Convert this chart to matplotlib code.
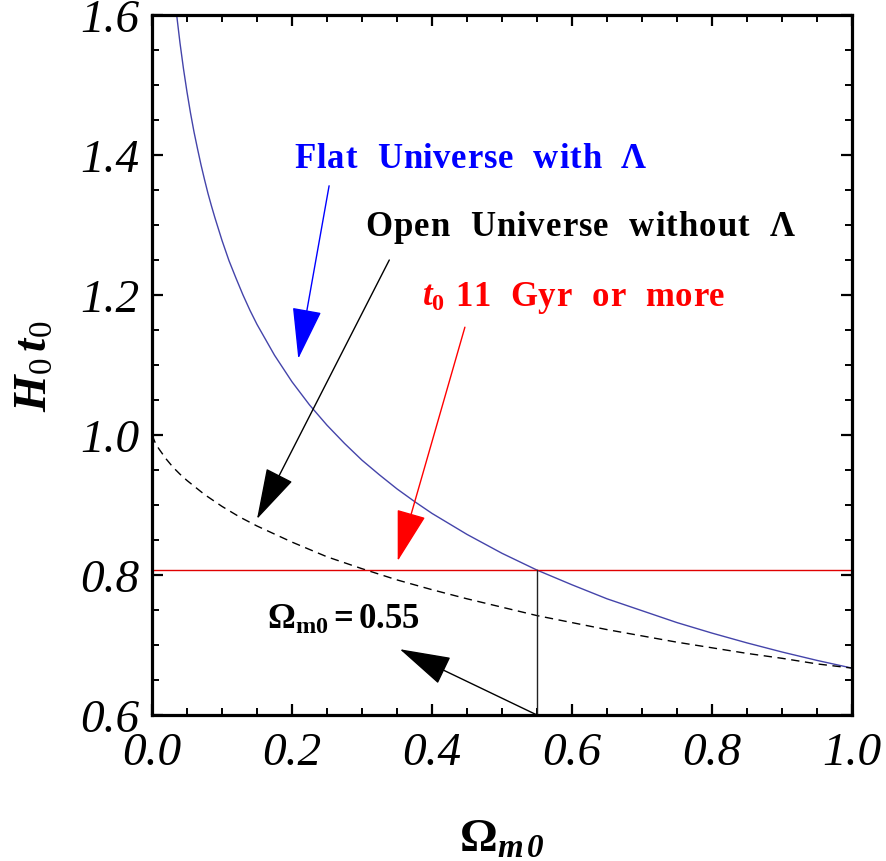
import numpy as np
import matplotlib
matplotlib.use("Agg")
import matplotlib.pyplot as plt
from matplotlib.ticker import MultipleLocator, FixedLocator
from matplotlib.transforms import offset_copy

plt.rcParams['font.family'] = ['Liberation Serif', 'DejaVu Serif']
plt.rcParams['mathtext.fontset'] = 'custom'
plt.rcParams['mathtext.rm'] = 'Liberation Serif'
plt.rcParams['mathtext.it'] = 'Liberation Serif:italic'
plt.rcParams['mathtext.bf'] = 'Liberation Serif:bold'
plt.rcParams['mathtext.bfit'] = 'Liberation Serif:bold:italic'

# ---- data ----
omega_flat = [0.030, 0.032, 0.035, 0.040, 0.045, 0.050, 0.055, 0.060, 0.065, 0.070,
              0.075, 0.080, 0.085, 0.090, 0.100, 0.110, 0.120, 0.130, 0.140, 0.150,
              0.175, 0.200, 0.225, 0.250, 0.275, 0.300, 0.325, 0.350, 0.375, 0.400,
              0.450, 0.500, 0.550, 0.600, 0.650, 0.700, 0.750, 0.800, 0.850, 0.900,
              0.950, 1.000]
h0t0_flat = [1.651, 1.630, 1.602, 1.560, 1.523, 1.490, 1.460, 1.433, 1.409, 1.386,
             1.365, 1.345, 1.327, 1.310, 1.278, 1.249, 1.224, 1.200, 1.178, 1.158,
             1.114, 1.076, 1.043, 1.014, 0.988, 0.964, 0.943, 0.923, 0.905, 0.888,
             0.858, 0.831, 0.807, 0.786, 0.766, 0.749, 0.732, 0.717, 0.703, 0.690,
             0.678, 0.667]

omega_open = [0.000, 0.005, 0.010, 0.020, 0.030, 0.040, 0.050, 0.075, 0.100, 0.125,
              0.150, 0.200, 0.250, 0.300, 0.350, 0.400, 0.450, 0.500, 0.550, 0.600,
              0.650, 0.700, 0.750, 0.800, 0.850, 0.900, 0.950, 1.000]
h0t0_open = [1.000, 0.988, 0.980, 0.966, 0.954, 0.944, 0.935, 0.915, 0.898, 0.883,
             0.870, 0.847, 0.826, 0.809, 0.793, 0.779, 0.766, 0.754, 0.742, 0.732,
             0.722, 0.713, 0.704, 0.696, 0.688, 0.681, 0.673, 0.667]

t0_limit = 0.807          # horizontal line (t0 = 11 Gyr)
omega_cut = 0.55          # vertical marker

x_ticks = [0.0, 0.2, 0.4, 0.6, 0.8, 1.0]
x_ticklabels = ['0.0', '0.2', '0.4', '0.6', '0.8', '1.0']
y_ticks = [0.6, 0.8, 1.0, 1.2, 1.4, 1.6]
y_ticklabels = ['0.6', '0.8', '1.0', '1.2', '1.4', '1.6']

# ---- figure ----
fig = plt.figure(figsize=(8.86, 8.62), dpi=100)
ax = fig.add_axes([152/886, 1 - 716/862, 700/886, 700/862])

ax.plot(omega_flat, h0t0_flat, color='#4444aa', lw=1.0)
ax.plot(omega_open, h0t0_open, color='black', lw=1.0, ls=(0, (6, 4)))
ax.axhline(t0_limit, color='#e00000', lw=1.0)
ax.plot([omega_cut, omega_cut], [0.6, t0_limit], color='#222222', lw=1.0)

ax.set_xlim(0, 1)
ax.set_ylim(0.6, 1.6)

ax.xaxis.set_major_locator(FixedLocator(x_ticks))
ax.set_xticklabels(x_ticklabels)
ax.yaxis.set_major_locator(FixedLocator(y_ticks))
ax.set_yticklabels(y_ticklabels)
ax.xaxis.set_minor_locator(MultipleLocator(0.05))
ax.yaxis.set_minor_locator(MultipleLocator(0.05))

ax.tick_params(which='both', direction='in', top=True, right=True)
ax.tick_params(which='major', length=8, width=1.6)
ax.tick_params(axis='x', which='major', pad=12)
ax.tick_params(axis='y', which='major', pad=9)
ax.tick_params(which='minor', length=5, width=1.4)
for lab in ax.get_xticklabels() + ax.get_yticklabels():
    lab.set_fontsize(34)
    lab.set_fontstyle('italic')
for s in ax.spines.values():
    s.set_linewidth(2.3)

ax.set_xlabel(r'$\mathbf{\Omega}_{\mathbfit{m\,0}}$', fontsize=34, labelpad=32)
ax.set_ylabel(r'$\mathbfit{H}_{\mathit{0}}\,\mathbfit{t}_{\mathit{0}}$', fontsize=34, labelpad=17)

# ---- annotations ----
renderer = fig.canvas.get_renderer()


def tracked_text(x, y, tokens, target_px, size, color):
    """Place tokens left-to-right from (x, baseline y) with even letter spacing."""
    space_px = 0.25 * size * 100 / 72
    objs, widths = [], []
    for tok in tokens:
        if tok == ' ':
            objs.append(None)
            widths.append(space_px)
            continue
        t = ax.text(x, y, tok, fontsize=size, fontweight='bold', color=color,
                    ha='left', va='baseline')
        widths.append(t.get_window_extent(renderer).width)
        objs.append(t)
    gap = (target_px - sum(widths)) / max(len(tokens) - 1, 1)
    off = 0.0
    for t, w in zip(objs, widths):
        if t is not None:
            t.set_transform(offset_copy(ax.transData, fig=fig, x=off, y=0, units='dots'))
        off += w + gap


def arrow(xy, xytext, color):
    ax.annotate('', xy=xy, xytext=xytext,
                arrowprops=dict(arrowstyle='-|>,head_length=3.3,head_width=0.95',
                                mutation_scale=10, color=color, lw=1.0,
                                shrinkA=0, shrinkB=0))


tracked_text(0.204, 1.383, list('Flat  Universe  with  Λ'), 351, 25, '#0000ff')
arrow((0.209, 1.109), (0.253, 1.356), '#0000ff')

tracked_text(0.305, 1.286, list('Open  Universe  without  Λ'), 429, 25, 'black')
arrow((0.150, 0.880), (0.339, 1.250), 'black')

tracked_text(0.385, 1.186, [r'$\mathbfit{t}_{\mathbf{0}}$'] + list(' 11  Gyr  or  more'),
             303, 25, '#ff0000')
arrow((0.351, 0.820), (0.447, 1.154), '#ff0000')

ax.text(0.164, 0.724, r'$\mathbf{\Omega_{m0}=0.55}$', fontsize=25, color='black',
        ha='left', va='baseline')
arrow((0.354, 0.694), (0.550, 0.600), 'black')

fig.savefig('out.png', dpi=100)
